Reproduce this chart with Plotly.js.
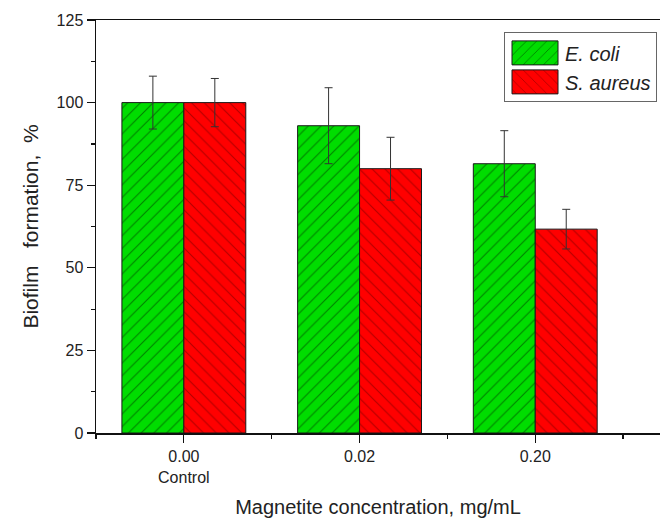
<!DOCTYPE html>
<html>
<head>
<meta charset="utf-8">
<script src="https://cdn.plot.ly/plotly-3.0.1.min.js"></script>
<style>html,body{margin:0;padding:0;background:#fff;}#chart{width:660px;height:518px;}</style>
</head>
<body>
<div id="chart"></div>
<script>
const categories = ['0.00<br>Control', '0.02', '0.20'];
const seriesNames = ['E. coli', 'S. aureus'];
const ecoliValues = [100, 93, 81.5];
const ecoliErrors = [8, 11.5, 10];
const saureusValues = [100, 80, 61.7];
const saureusErrors = [7.3, 9.5, 6];
const yTicks = [0, 25, 50, 75, 100, 125];

const xPos = categories.map((c, i) => i);
const fam = 'Liberation Sans, Arial, sans-serif';

const traces = [
  {
    type: 'bar', x: xPos, y: ecoliValues, name: seriesNames[0],
    marker: {color: '#00dd00', line: {color: '#1a1a1a', width: 1},
      pattern: {shape: '/', bgcolor: '#00dd00', fgcolor: '#003300', fgopacity: 0.55, size: 9, solidity: 0.12, fillmode: 'replace'}},
    error_y: {type: 'data', array: ecoliErrors, visible: true, color: '#333', thickness: 1, width: 4}
  },
  {
    type: 'bar', x: xPos, y: saureusValues, name: seriesNames[1],
    marker: {color: '#ff0000', line: {color: '#1a1a1a', width: 1},
      pattern: {shape: '\\', bgcolor: '#ff0000', fgcolor: '#550000', fgopacity: 0.45, size: 9, solidity: 0.12, fillmode: 'replace'}},
    error_y: {type: 'data', array: saureusErrors, visible: true, color: '#333', thickness: 1, width: 4}
  }
];

const layout = {
  width: 660, height: 518,
  margin: {l: 96, r: 0, t: 20, b: 85},
  paper_bgcolor: '#fff', plot_bgcolor: '#fff',
  barmode: 'group', bargap: 0.295, bargroupgap: 0,
  font: {family: fam, color: '#222'},
  showlegend: true,
  legend: {
    x: 0.9947, y: 0.97, xanchor: 'right', yanchor: 'top',
    bordercolor: '#666', borderwidth: 1, bgcolor: '#fff',
    font: {family: fam, size: 20, color: '#222', style: 'italic'},
    itemwidth: 50, tracegroupgap: 0, traceorder: 'normal'
  },
  xaxis: {
    range: [-0.5, 2.71],
    tickmode: 'array', tickvals: xPos, ticktext: categories,
    showline: true, linecolor: '#111', linewidth: 1.5, mirror: true,
    ticks: 'outside', ticklen: 8, tickwidth: 1.2, tickcolor: '#111',
    minor: {tickmode: 'array', tickvals: [-0.5, 0.5, 1.5, 2.5], ticks: 'outside', ticklen: 4, tickcolor: '#111', tickwidth: 1.2},
    showgrid: false, zeroline: false,
    tickfont: {family: fam, size: 16, color: '#222'},
    title: {text: 'Magnetite concentration, mg/mL', font: {family: fam, size: 20, color: '#222'}, standoff: 15}
  },
  yaxis: {
    range: [0, 125],
    tickmode: 'array', tickvals: yTicks,
    showline: true, linecolor: '#111', linewidth: 1.5,
    ticks: 'outside', ticklen: 8, tickwidth: 1.2, tickcolor: '#111',
    minor: {dtick: 12.5, tick0: 0, ticks: 'outside', ticklen: 4, tickcolor: '#111', tickwidth: 1.2},
    showgrid: false, zeroline: false,
    tickfont: {family: fam, size: 16, color: '#222'},
    title: {text: 'Biofilm   formation,  %', font: {family: fam, size: 21, color: '#222'}, standoff: 12}
  }
};

Plotly.newPlot('chart', traces, layout, {displayModeBar: false, staticPlot: true}).then(() => {
  document.querySelectorAll('.legend .legendpoints path').forEach(p => {
    p.setAttribute('d', 'M23,12H-23V-12H23Z');
  });
});
</script>
</body>
</html>
